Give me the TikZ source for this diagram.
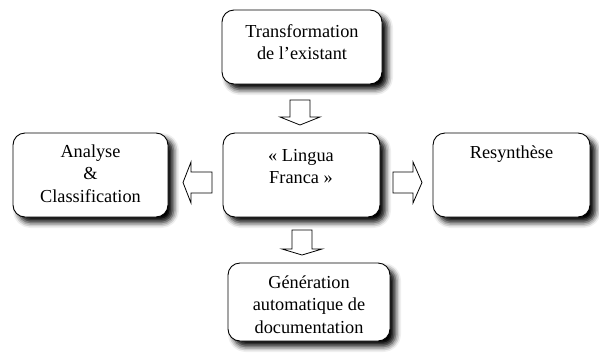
\documentclass[tikz,border=0pt]{standalone}
\usepackage{fontspec}
\setmainfont{Liberation Serif}
\usetikzlibrary{shadows.blur}
\tikzset{
  box/.style={draw=black, line width=0.9pt, fill=white, rounded corners=12pt,
    blur shadow={shadow xshift=5.5pt, shadow yshift=-5.5pt, shadow blur radius=5.5pt, shadow opacity=100}},
  txt/.style={anchor=north, inner sep=0pt, align=center,
    font=\rmfamily\fontsize{18.3}{22.7}\selectfont},
  blockarrow/.style={draw=black, line width=0.8pt, fill=white, line join=miter}
}
\begin{document}
\begin{tikzpicture}[x=1pt,y=-1pt]
\useasboundingbox (0,0) rectangle (599,354);
% boxes
\node[box, minimum width=160pt, minimum height=74pt] (top) at (302,47) {};
\node[box, minimum width=157pt, minimum height=84pt] (center) at (301.5,175) {};
\node[box, minimum width=155pt, minimum height=84pt] (left) at (90.5,175) {};
\node[box, minimum width=157pt, minimum height=84pt] (right) at (511.5,175) {};
\node[box, minimum width=162pt, minimum height=78pt] (bottom) at (309,302) {};
% texts
\node[txt] (ttop) at (302,21) {\strut Transformation\\de l'existant};
\node[txt] (tcenter) at (301,145) {\strut « Lingua\\Franca »};
\node[txt] (tleft) at (90.5,141) {\strut Analyse\\\&\\Classification};
\node[txt] (tright) at (511.5,142) {\strut Resynthèse};
\node[txt] (tbottom) at (309,272) {\strut Génération\\automatique de\\documentation};
% block arrows
\draw[blockarrow] (290,100) -- (310,100) -- (310,117) -- (320,117) -- (300,125)
  -- (280,117) -- (290,117) -- cycle;
\draw[blockarrow] (292,230) -- (312,230) -- (312,249) -- (322,249) -- (302,255)
  -- (282,249) -- (292,249) -- cycle;
\draw[blockarrow] (212,172) -- (212,193) -- (191,193) -- (191,203) -- (183,182.5)
  -- (191,162) -- (191,172) -- cycle;
\draw[blockarrow] (393,172) -- (413,172) -- (413,162) -- (422,182.5)
  -- (413,203) -- (413,193) -- (393,193) -- cycle;
\end{tikzpicture}
\end{document}
